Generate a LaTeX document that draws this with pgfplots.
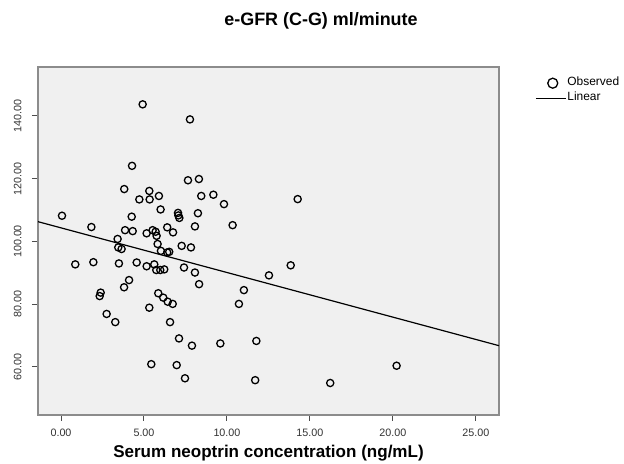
\documentclass[border=0pt]{standalone}
\usepackage{fontspec}
\setmainfont{Liberation Sans}
\usepackage{pgfplots}
\pgfplotsset{compat=1.18}
\definecolor{plotBg}{HTML}{F0F0F0}
\definecolor{frameGray}{HTML}{8C8C8C}
\pgfplotsset{
  obsLegend/.style={legend image code/.code={\draw[##1,mark size=5bp] plot coordinates {(17bp,0bp)};}},
  linLegend/.style={legend image code/.code={\draw[##1] (0bp,0bp) -- (30bp,0bp);}},
}
\begin{document}
\begin{tikzpicture}
\useasboundingbox (0,0) rectangle (624bp,464bp);
% title and x label sit off the axis centre, as in the SPSS export
\node[anchor=base,font=\bfseries\fontsize{18}{18}\selectfont] at (321bp,438bp) {e-GFR (C-G) ml/minute};
\begin{axis}[
  at={(38bp,49bp)}, anchor=south west,
  scale only axis, width=461bp, height=348bp,
  xmin=-1.386, xmax=26.39, ymin=44.70, ymax=155.6,
  xtick={0,5,10,15,20,25}, ytick={60,80,100,120,140},
  axis background/.style={fill=plotBg},
  axis line style={frameGray,line width=1.4bp},
  tick style={black!70,line width=1bp},
  tick align=outside, major tick length=6bp,
  xtick pos=bottom, ytick pos=left,
  scaled ticks=false,
  tick label style={font=\fontsize{10.8}{10.8}\selectfont,text=black!80,
    /pgf/number format/assume math mode=true,
    /pgf/number format/fixed,/pgf/number format/fixed zerofill,
    /pgf/number format/precision=2},
  yticklabel style={rotate=90,anchor=south},
  yticklabel shift=7bp,
  xticklabel shift=4bp,
  xlabel={Serum neoptrin concentration (ng/mL)},
  xlabel style={font=\bfseries\fontsize{17.1}{17.1}\selectfont,
    at={(axis description cs:0.5,0)},anchor=base,yshift=-42bp},
  legend cell align=left,
  legend style={draw=none,fill=none,inner sep=0pt,
    at={(1.078,0.9756)},anchor=north west,
    font=\fontsize{12}{12}\selectfont,
    nodes={inner xsep=1bp,inner ysep=0pt,text height=10bp,text depth=5bp},
    /tikz/every even column/.append style={column sep=0bp}},
  clip=false,
]
\addplot[only marks,mark=o,mark size=3.6bp,black,line width=1.3bp,obsLegend]
  coordinates {
  (0.06,108.2) (0.86,92.7) (1.83,104.6) (1.95,93.4) (2.39,83.7) (2.33,82.6)
  (2.75,76.9) (3.27,74.3) (3.41,100.8) (3.45,98.1) (3.65,97.6) (3.49,93.0)
  (3.80,85.4) (3.81,116.7) (3.86,103.6) (4.10,87.7) (4.28,124.1) (4.26,107.9)
  (4.32,103.3) (4.56,93.3) (4.72,113.4) (4.92,143.7) (5.16,102.6) (5.16,92.1)
  (5.32,116.1) (5.34,113.4) (5.32,78.9) (5.44,60.9) (5.52,103.6) (5.62,92.7)
  (5.70,103.1) (5.76,101.8) (5.74,90.9) (5.82,99.2) (5.86,83.5) (5.90,114.5)
  (5.98,90.9) (6.00,110.2) (6.02,97.0) (6.16,82.1) (6.22,91.1) (6.40,104.5)
  (6.40,96.5) (6.43,80.8) (6.52,96.7) (6.57,74.3) (6.73,80.1) (6.75,102.9)
  (6.97,60.6) (7.05,109.1) (7.07,108.3) (7.13,107.5) (7.11,69.1) (7.27,98.6)
  (7.41,91.7) (7.47,56.4) (7.65,119.5) (7.77,138.9) (7.83,98.1) (7.89,66.8)
  (8.07,104.8) (8.07,90.1) (8.25,109.0) (8.31,119.9) (8.32,86.4) (8.45,114.5)
  (9.18,114.9) (9.60,67.5) (9.82,111.9) (10.34,105.2) (10.72,80.1) (11.02,84.5)
  (11.70,55.8) (11.77,68.3) (12.53,89.2) (13.84,92.4) (14.26,113.5) (16.22,54.9)
  (20.22,60.4)
  };
\addlegendentry{Observed}
\addplot[black,line width=1.2bp,mark=none,linLegend]
  coordinates {(-1.386,106.31) (26.39,66.79)};
\addlegendentry{Linear}
\end{axis}
\end{tikzpicture}
\end{document}
